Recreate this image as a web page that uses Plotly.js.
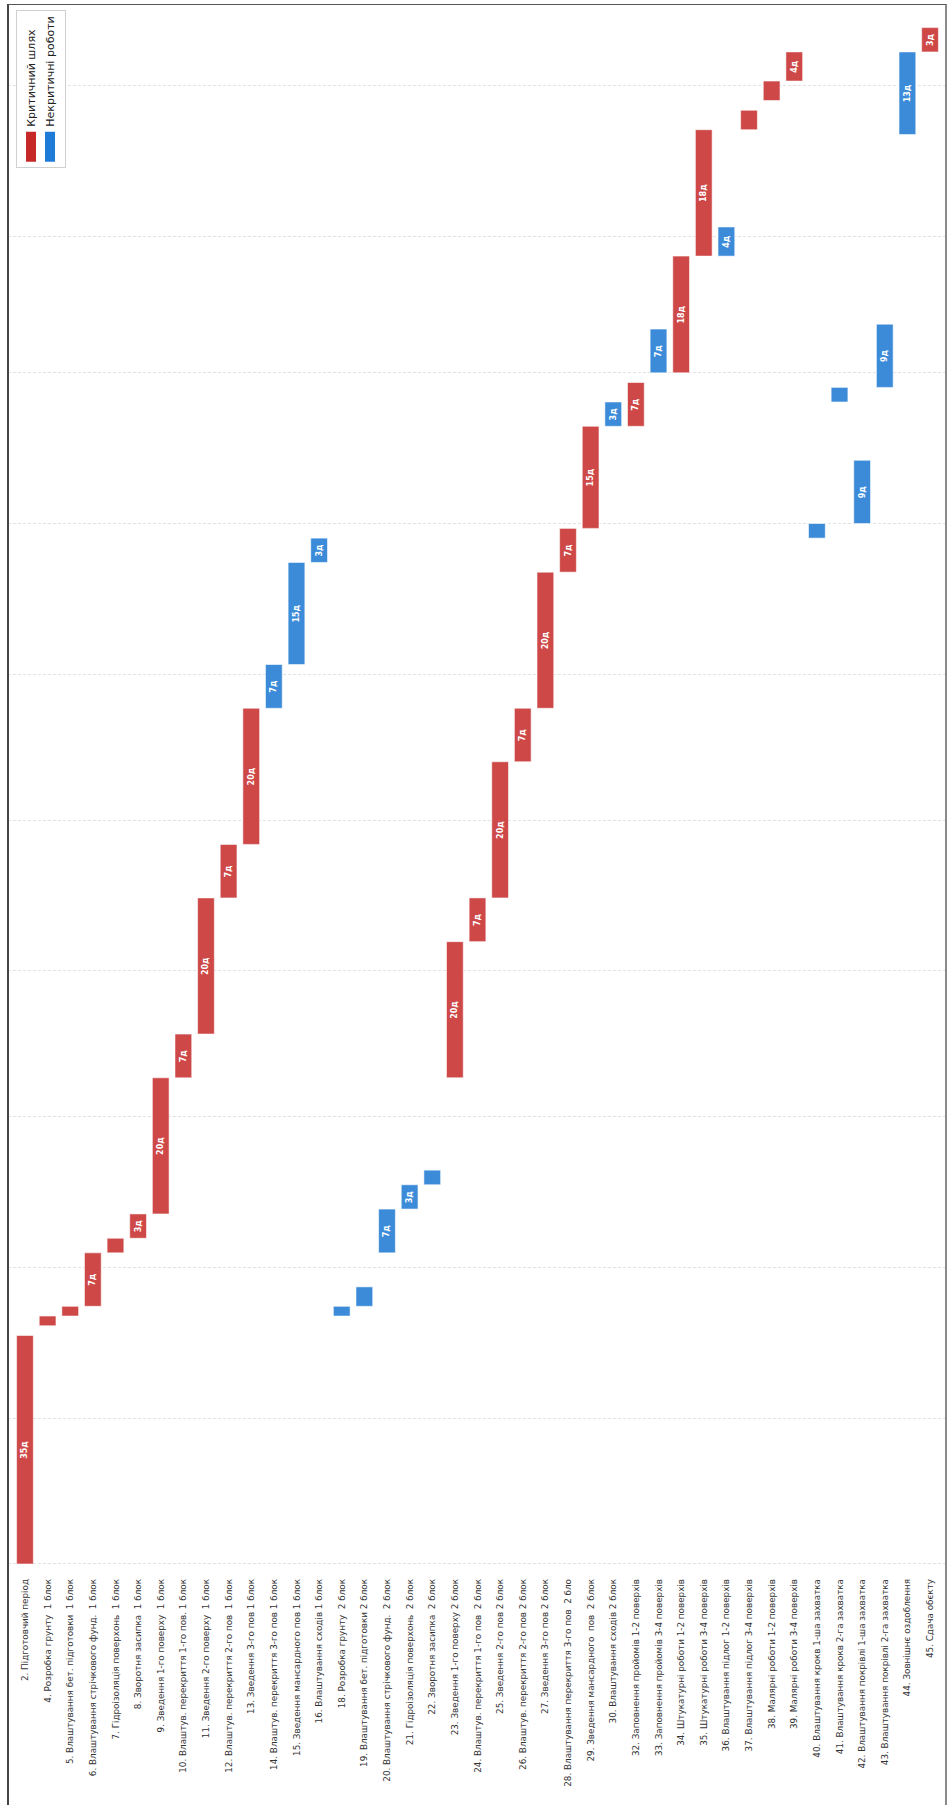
<!DOCTYPE html>
<html>
<head>
<meta charset="utf-8">
<script src="https://cdn.plot.ly/plotly-3.0.1.min.js"></script>
<style>
html,body{margin:0;padding:0;width:947px;height:1805px;overflow:hidden;background:#fff}
#chart{position:absolute;left:0;top:0;width:1805px;height:947px;transform-origin:0 0;transform:translate(0,1805px) rotate(-90deg)}
#frame{position:absolute;left:7px;top:4px;width:936px;height:1820px;border-left:2px solid #444;border-top:1.5px solid #555;border-right:2px solid #8a8a8a;pointer-events:none}
</style>
</head>
<body>
<div id="chart"></div>
<div id="frame"></div>
<script>
// ---- data ----
const tasks = [
  "2. Підготовчий період",
  "4. Розробка грунту  1 блок",
  "5. Влаштування бет. підготовки  1 блок",
  "6. Влаштування стрічкового фунд.  1 блок",
  "7. Гідроізоляція поверхонь  1 блок",
  "8. Зворотня засипка  1 блок",
  "9. Зведення 1-го поверху  1 блок",
  "10. Влаштув. перекриття 1-го пов. 1 блок",
  "11. Зведення 2-го поверху  1 блок",
  "12. Влаштув. перекриття 2-го пов  1 блок",
  "13. Зведення 3-го пов 1 блок",
  "14. Влаштув. перекриття 3-го пов 1 блок",
  "15. Зведення мансардного пов 1 блок",
  "16. Влаштування сходів 1 блок",
  "18. Розробка грунту  2 блок",
  "19. Влаштування бет. підготовки 2 блок",
  "20. Влаштування стрічкового фунд.  2 блок",
  "21. Гідроізоляція поверхонь  2 блок",
  "22. Зворотня засипка  2 блок",
  "23. Зведення 1-го поверху 2 блок",
  "24. Влаштув. перекриття 1-го пов  2 блок",
  "25. Зведення 2-го пов 2 блок",
  "26. Влаштув. перекриття 2-го пов 2 блок",
  "27. Зведення 3-го пов 2 блок",
  "28. Влаштування перекриття 3-го пов  2 бло",
  "29. Зведення мансардного  пов  2 блок",
  "30. Влаштування сходів 2 блок",
  "32. Заповнення пройомів 1-2 поверхів",
  "33. Заповнення пройомів 3-4 поверхів",
  "34. Штукатурні роботи 1-2 поверхів",
  "35. Штукатурні роботи 3-4 поверхів",
  "36. Влаштування підлог 1-2 поверхів",
  "37. Влаштування підлог 3-4 поверхів",
  "38. Малярні роботи 1-2 поверхів",
  "39. Малярні роботи 3-4 поверхів",
  "40. Влаштування крокв 1-ша захватка",
  "41. Влаштування крокв 2-га захватка",
  "42. Влаштування покрівлі 1-ша захватка",
  "43. Влаштування покрівлі 2-га захватка",
  "44. Зовнішнє оздоблення",
  "45. Сдача обєкту"
];

const startDates = [
  "2026-06-01","2026-07-20","2026-07-22","2026-07-24","2026-08-04","2026-08-07",
  "2026-08-12","2026-09-09","2026-09-18","2026-10-16","2026-10-27","2026-11-24",
  "2026-12-03","2026-12-24","2026-07-22","2026-07-24","2026-08-04","2026-08-13",
  "2026-08-18","2026-09-09","2026-10-07","2026-10-16","2026-11-13","2026-11-24",
  "2026-12-22","2026-12-31","2027-01-21","2027-01-21","2027-02-01","2027-02-01",
  "2027-02-25","2027-02-25","2027-03-23","2027-03-29","2027-04-02","2026-12-29",
  "2027-01-26","2027-01-01","2027-01-29","2027-03-22","2027-04-08"
];

const endDates = [
  "2026-07-18","2026-07-22","2026-07-24","2026-08-04","2026-08-07","2026-08-12",
  "2026-09-09","2026-09-18","2026-10-16","2026-10-27","2026-11-24","2026-12-03",
  "2026-12-24","2026-12-29","2026-07-24","2026-07-28","2026-08-13","2026-08-18",
  "2026-08-21","2026-10-07","2026-10-16","2026-11-13","2026-11-24","2026-12-22",
  "2026-12-31","2027-01-21","2027-01-26","2027-01-30","2027-02-10","2027-02-25",
  "2027-03-23","2027-03-03","2027-03-27","2027-04-02","2027-04-08","2027-01-01",
  "2027-01-29","2027-01-14","2027-02-11","2027-04-08","2027-04-13"
];

const isCritical = [
  true,true,true,true,true,true,true,true,true,true,true,false,false,false,
  false,false,false,false,false,true,true,true,true,true,true,true,false,true,
  false,true,true,false,true,true,true,false,false,false,false,false,true
];

const durationLabels = [
  "35д","","","7д","","3д","20д","7д","20д","7д","20д","7д","15д","3д",
  "","","7д","3д","","20д","7д","20д","7д","20д","7д","15д","3д","7д",
  "7д","18д","18д","4д","","","4д","","","9д","9д","13д","3д"
];

const seriesNames = ["Критичний шлях", "Некритичні роботи"];
const barColors = ["#CE4848", "#3B8BD9"];
const legendColors = ["#C62828", "#1E7BD8"];

// ---- build traces ----
function toMs(d){ return Date.parse(d + "T00:00:00Z"); }
function makeTrace(flag, k){
  const idx = tasks.map((t,i)=>i).filter(i=>isCritical[i]===flag);
  return {
    type: "bar",
    orientation: "h",
    name: seriesNames[k],
    showlegend: false,
    y: idx.map(i=>tasks[i]),
    base: idx.map(i=>startDates[i]),
    x: idx.map(i=>toMs(endDates[i]) - toMs(startDates[i])),
    text: idx.map(i=>durationLabels[i]),
    textposition: "inside",
    insidetextanchor: "middle",
    textangle: 0,
    insidetextfont: {family: "DejaVu Sans", size: 8, color: "#ffffff", weight: "bold"},
    width: 0.74,
    marker: {color: barColors[k], line: {color: "rgba(255,255,255,0.55)", width: 1}},
    hoverinfo: "skip"
  };
}
function legendEntry(k){
  return {
    type: "scatter", mode: "lines", name: seriesNames[k],
    x: [null], y: [null],
    line: {color: legendColors[k], width: 10},
    showlegend: true, hoverinfo: "skip"
  };
}

const data = [makeTrace(true, 0), makeTrace(false, 1), legendEntry(0), legendEntry(1)];

const layout = {
  width: 1805,
  height: 947,
  margin: {l: 236, r: 5, t: 8, b: 0, pad: 0},
  paper_bgcolor: "#ffffff",
  plot_bgcolor: "#ffffff",
  barmode: "overlay",
  showlegend: true,
  font: {family: "DejaVu Sans", color: "#333"},
  xaxis: {
    type: "date",
    range: ["2026-05-30 23:17", "2027-04-17 15:36"],
    tick0: "2026-06-01",
    dtick: "M1",
    showgrid: true,
    gridcolor: "#e2e2e2",
    gridwidth: 1,
    griddash: "3px,2px",
    showticklabels: false,
    ticks: "outside",
    ticklen: 4,
    tickcolor: "#333",
    showline: false,
    zeroline: false
  },
  yaxis: {
    type: "category",
    categoryorder: "array",
    categoryarray: tasks,
    range: [40.75, -0.75],
    showgrid: false,
    showline: false,
    zeroline: false,
    ticks: "",
    ticklabelstandoff: 9,
    tickfont: {family: "DejaVu Sans", size: 8.8, color: "#333"}
  },
  legend: {
    x: 0.997, xanchor: "right",
    y: 0.992, yanchor: "top",
    bgcolor: "rgba(255,255,255,0.85)",
    bordercolor: "#d0d0d0",
    borderwidth: 1,
    font: {family: "DejaVu Sans", size: 11, color: "#222"},
    tracegroupgap: 0,
    itemwidth: 30
  }
};

Plotly.newPlot("chart", data, layout, {displayModeBar: false, staticPlot: true});
</script>
</body>
</html>
